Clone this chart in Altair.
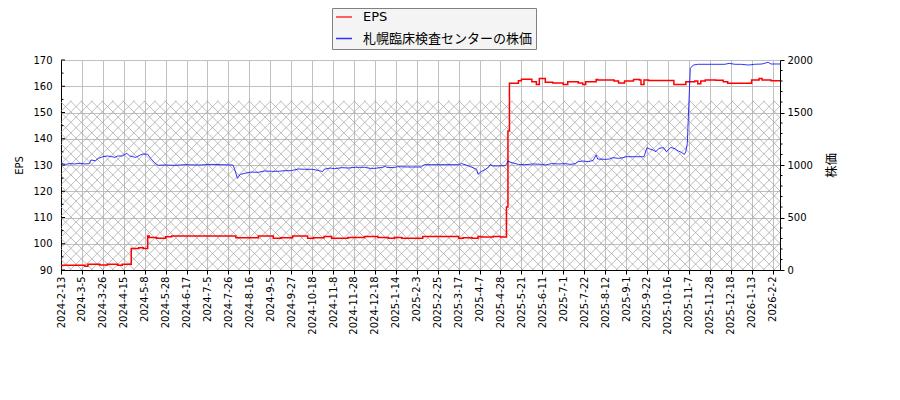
import altair as alt
import pandas as pd

STOCK = "札幌臨床検査センターの株価"

# x is the trading-day index; a date label every 14 trading days
tick_labels = [
    "2024-2-13", "2024-3-5", "2024-3-26", "2024-4-15", "2024-5-8", "2024-5-28",
    "2024-6-17", "2024-7-5", "2024-7-26", "2024-8-16", "2024-9-5", "2024-9-27",
    "2024-10-18", "2024-11-8", "2024-11-28", "2024-12-18", "2025-1-14", "2025-2-3",
    "2025-2-25", "2025-3-17", "2025-4-7", "2025-4-28", "2025-5-21", "2025-6-11",
    "2025-7-1", "2025-7-22", "2025-8-12", "2025-9-1", "2025-9-22", "2025-10-16",
    "2025-11-7", "2025-11-28", "2025-12-18", "2026-1-13", "2026-2-2",
]
TICK_STEP = 14
LAST_DAY = 481

# EPS, step line: day where each level starts
eps_day = [0, 16, 18, 26, 31, 38, 41, 47, 52, 55,
           58, 59, 64, 70, 74, 117, 132, 142, 147, 155,
           165, 169, 176, 181, 192, 203, 212, 219, 223, 228,
           242, 266, 269, 275, 279, 281, 289, 294, 298, 299,
           300, 306, 308, 315, 318, 320, 324, 329, 336, 339,
           346, 349, 351, 358, 359, 370, 373, 377, 383, 387,
           388, 390, 393, 410, 418, 424, 426, 428, 431, 438,
           443, 446, 462, 467, 469, 475, 481]
eps_val = [91.8, 91.4, 92.2, 91.9, 92.2, 91.8, 92.2, 98.2, 98.5, 98.2,
           103.0, 102.4, 102.05, 102.7, 102.95, 102.3, 102.95, 102.05, 102.3, 102.95,
           102.05, 102.3, 102.8, 102.05, 102.4, 102.8, 102.4, 102.05, 102.4, 102.05,
           102.8, 102.05, 102.3, 102.05, 102.8, 102.6, 102.8, 102.6, 114.0, 143.0,
           161.1, 162.1, 162.7, 161.7, 160.7, 163.0, 161.5, 161.2, 160.7, 161.7,
           161.2, 160.7, 161.7, 162.6, 162.4, 162.0, 161.2, 162.0, 162.6, 162.4,
           160.7, 162.4, 162.2, 160.7, 161.7, 162.0, 161.0, 162.0, 162.4, 162.3,
           161.7, 161.1, 162.4, 163.0, 162.4, 162.1, 162.1]

# share price
price_day = [0, 3, 6, 9, 13, 16, 19, 20, 23, 25, 28, 31, 34, 36, 38, 41, 44, 46, 48, 50,
             53, 55, 58, 60, 63, 65, 69, 76, 83, 92, 101, 107, 115, 116, 118, 120, 123, 127, 132, 136,
             141, 145, 150, 154, 159, 163, 168, 171, 173, 175, 176, 180, 183, 188, 192, 197, 203, 207, 210, 215,
             217, 218, 223, 225, 232, 241, 243, 248, 257, 266, 268, 271, 275, 278, 279, 281, 284, 286, 287, 289,
             292, 297, 298, 299, 301, 306, 310, 316, 322, 324, 328, 333, 337, 341, 344, 346, 349, 353, 356, 358,
             359, 364, 367, 369, 373, 376, 378, 384, 388, 390, 392, 394, 396, 398, 400, 403, 405, 408, 411, 413,
             415, 417, 418, 419, 420, 421, 423, 426, 435, 444, 447, 451, 455, 460, 464, 469, 473, 475, 481]
price_val = [1016, 1006, 1013, 1010, 1016, 1010, 1013, 1048, 1040, 1063, 1079, 1086, 1079, 1073, 1086, 1086, 1111, 1086, 1079, 1073,
             1095, 1105, 1102, 1063, 1016, 997, 1000, 997, 1003, 1000, 1006, 1003, 1000, 968, 873, 911, 921, 933, 930, 943,
             940, 940, 946, 946, 962, 959, 959, 952, 946, 937, 959, 971, 965, 975, 971, 978, 978, 968, 968, 978,
             987, 978, 975, 984, 981, 981, 1003, 1003, 1003, 1003, 1013, 1000, 978, 959, 911, 937, 959, 978, 1003, 991,
             991, 994, 1006, 1038, 1025, 1006, 1003, 1010, 1006, 1000, 1013, 1010, 1013, 1006, 1013, 1032, 1038, 1032, 1044, 1095,
             1057, 1054, 1057, 1070, 1063, 1070, 1079, 1079, 1079, 1079, 1165, 1152, 1143, 1127, 1159, 1165, 1127, 1168, 1152, 1133,
             1121, 1101, 1127, 1206, 1571, 1921, 1952, 1959, 1959, 1959, 1968, 1959, 1959, 1952, 1959, 1962, 1978, 1962, 1962]

eps_ticks = [90, 100, 110, 120, 130, 140, 150, 160, 170]
eps_minor = [95, 105, 115, 125, 135, 145, 155, 165]
price_ticks = [0, 500, 1000, 1500, 2000]
price_minor = [100, 200, 300, 400, 600, 700, 800, 900, 1100, 1200, 1300, 1400,
               1600, 1700, 1800, 1900]
HATCH_TOP = 154.5

PLOT_W, PLOT_H = 719, 210
HATCH_GAP = 10.5
px_day = PLOT_W / LAST_DAY
px_eps = PLOT_H / 80
hatch_h = (HATCH_TOP - 90) * px_eps

eps_df = pd.DataFrame({"day": eps_day, "value": eps_val, "series": "EPS"})
price_df = pd.DataFrame({"day": price_day, "value": price_val, "series": STOCK})

x_scale = alt.Scale(domain=[0, LAST_DAY], nice=False, zero=False)
eps_scale = alt.Scale(domain=[90, 170], nice=False, zero=False)
price_scale = alt.Scale(domain=[0, 2000], nice=False)

labels_js = "[" + ",".join("'%s'" % t for t in tick_labels) + "]"
x_axis = alt.Axis(
    values=[i * TICK_STEP for i in range(len(tick_labels))],
    labelExpr=labels_js + "[round(datum.value / %d)]" % TICK_STEP,
    labelAngle=270, grid=True, tickSize=4, labelPadding=2, title="",
)

color = alt.Color(
    "series:N",
    scale=alt.Scale(domain=["EPS", STOCK], range=["#ff0000", "#0000ff"]),
    legend=alt.Legend(
        title=None, orient="none", legendX=271, legendY=-52,
        symbolType="stroke", symbolSize=256, symbolStrokeWidth=1.5,
        labelFont="DejaVu Sans, Noto Sans CJK JP", labelFontSize=13, labelLimit=400,
        labelColor="black", labelOffset=10, padding=3, rowPadding=8.5, clipHeight=12,
        fillColor="#f4f4f4", strokeColor="#808080", cornerRadius=0,
    ),
)

# cross hatching below EPS 154.5, built as two families of 45 degree rules
hatch_ne = alt.Chart(alt.sequence(-hatch_h, PLOT_W, HATCH_GAP, as_="c")).transform_calculate(
    a="max(datum.c, 0)", b="min(datum.c + %f, %f)" % (hatch_h, PLOT_W)
).transform_filter("datum.b > datum.a").transform_calculate(
    hx1="datum.a / %f" % px_day, hx2="datum.b / %f" % px_day,
    hy1="90 + (datum.a - datum.c) / %f" % px_eps, hy2="90 + (datum.b - datum.c) / %f" % px_eps,
)
hatch_nw = alt.Chart(alt.sequence(0, PLOT_W + hatch_h, HATCH_GAP, as_="c")).transform_calculate(
    a="min(datum.c, %f)" % PLOT_W, b="max(datum.c - %f, 0)" % hatch_h
).transform_filter("datum.a > datum.b").transform_calculate(
    hx1="datum.a / %f" % px_day, hx2="datum.b / %f" % px_day,
    hy1="90 + (datum.c - datum.a) / %f" % px_eps, hy2="90 + (datum.c - datum.b) / %f" % px_eps,
)
hatch_enc = dict(
    x=alt.X("hx1:Q", scale=x_scale, axis=x_axis), x2="hx2:Q",
    y=alt.Y("hy1:Q", scale=eps_scale, axis=None), y2="hy2:Q",
)
hatch_layers = [
    h.mark_rule(color="#a0a0a0", strokeWidth=0.7).encode(**hatch_enc)
    for h in (hatch_ne, hatch_nw)
]

# EPS axis ticks point inward, drawn as short rules
left_major = alt.Chart(pd.DataFrame({"v": eps_ticks})).mark_rule(color="black").encode(
    x=alt.value(0), x2=alt.value(4), y=alt.Y("v:Q", scale=eps_scale, axis=None))
left_minor = alt.Chart(pd.DataFrame({"v": eps_minor})).mark_rule(color="black").encode(
    x=alt.value(0), x2=alt.value(2.5), y=alt.Y("v:Q", scale=eps_scale, axis=None))
right_minor = alt.Chart(pd.DataFrame({"v": price_minor})).mark_rule(color="black").encode(
    x=alt.value(PLOT_W), x2=alt.value(PLOT_W + 2.5), y=alt.Y("v:Q", scale=price_scale, axis=None))

eps_line = alt.Chart(eps_df).mark_line(interpolate="step-after", strokeWidth=1.5).encode(
    x=alt.X("day:Q", scale=x_scale, axis=x_axis),
    y=alt.Y("value:Q", scale=eps_scale, axis=alt.Axis(
        orient="left", values=eps_ticks, grid=True, ticks=False, labelPadding=9,
        title="EPS", titlePadding=8)),
    color=color,
)

price_line = alt.Chart(price_df).mark_line(strokeWidth=1, opacity=0.8).encode(
    x=alt.X("day:Q", scale=x_scale, axis=x_axis),
    y=alt.Y("value:Q", scale=price_scale, axis=alt.Axis(
        orient="right", values=price_ticks, format="d", grid=False, tickSize=4, labelPadding=3,
        title="株価", titleAngle=270, titleBaseline="top", titlePadding=13,
        titleFont="Noto Sans CJK JP", titleFontSize=12.5)),
    color=color,
)

chart = alt.layer(
    *hatch_layers, left_major, left_minor, right_minor, eps_line, price_line
).resolve_scale(
    y="independent"
).properties(
    width=PLOT_W, height=PLOT_H,
    autosize=alt.AutoSizeParams(type="none"),
    padding={"left": 53, "top": 52, "right": 112, "bottom": 122},
).configure_view(
    strokeWidth=0
).configure_axis(
    gridColor="#c0c0c0", gridWidth=1, domainColor="black", tickColor="black",
    labelColor="black", labelFont="DejaVu Sans", labelFontSize=10,
    titleColor="black", titleFont="DejaVu Sans", titleFontSize=10, titleFontWeight="normal",
)

chart.save("out.html", embed_options={"renderer": "svg", "actions": False})
